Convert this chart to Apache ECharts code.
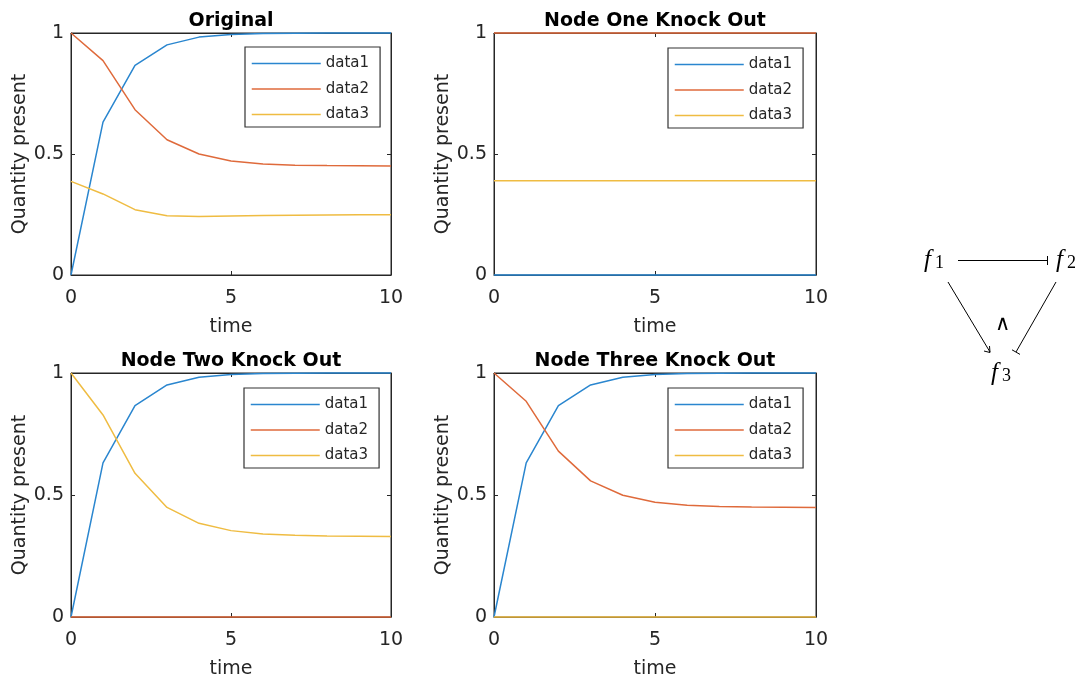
<!DOCTYPE html>
<html>
<head>
<meta charset="utf-8">
<script src="https://cdn.jsdelivr.net/npm/echarts@6/dist/echarts.min.js"></script>
<style>
html,body{margin:0;padding:0;background:#fff;}
#chart{width:1084px;height:684px;}
</style>
</head>
<body>
<div id="chart"></div>
<script>
const time = [0, 1, 2, 3, 4, 5, 6, 7, 8, 9, 10];
const seriesNames = ['data1', 'data2', 'data3'];
const panelTitles = ['Original', 'Node One Knock Out', 'Node Two Knock Out', 'Node Three Knock Out'];
const xTicks = [0, 5, 10];
const yTicks = [0, 0.5, 1];

const origData1 = [0, 0.632, 0.866, 0.951, 0.983, 0.994, 0.998, 0.999, 1, 1, 1];
const origData2 = [1, 0.886, 0.683, 0.559, 0.500, 0.471, 0.459, 0.454, 0.452, 0.451, 0.450];
const origData3 = [0.387, 0.335, 0.270, 0.245, 0.242, 0.244, 0.246, 0.247, 0.248, 0.249, 0.249];

const ko1Data1 = [0, 0, 0, 0, 0, 0, 0, 0, 0, 0, 0];
const ko1Data2 = [1, 1, 1, 1, 1, 1, 1, 1, 1, 1, 1];
const ko1Data3 = [0.389, 0.389, 0.389, 0.389, 0.389, 0.389, 0.389, 0.389, 0.389, 0.389, 0.389];

const ko2Data1 = [0, 0.632, 0.866, 0.951, 0.983, 0.994, 0.998, 0.999, 1, 1, 1];
const ko2Data2 = [0, 0, 0, 0, 0, 0, 0, 0, 0, 0, 0];
const ko2Data3 = [1, 0.828, 0.589, 0.449, 0.384, 0.354, 0.340, 0.335, 0.332, 0.331, 0.330];

const ko3Data1 = [0, 0.632, 0.866, 0.951, 0.983, 0.994, 0.998, 0.999, 1, 1, 1];
const ko3Data2 = [1, 0.884, 0.680, 0.558, 0.499, 0.470, 0.458, 0.453, 0.451, 0.450, 0.449];
const ko3Data3 = [0, 0, 0, 0, 0, 0, 0, 0, 0, 0, 0];

const panels = [
  [origData1, origData2, origData3],
  [ko1Data1, ko1Data2, ko1Data3],
  [ko2Data1, ko2Data2, ko2Data3],
  [ko3Data1, ko3Data2, ko3Data3]
];

const colors = ['#2a86cf', '#df6a3b', '#efbc42'];
const axisColor = '#262626';
const FONT = 'DejaVu Sans';

const grids = [
  {left: 71, top: 33, width: 320, height: 242},
  {left: 494, top: 33, width: 322, height: 242},
  {left: 71, top: 373, width: 320, height: 244},
  {left: 494, top: 373, width: 322, height: 244}
];
const legendPos = [
  {left: 245, top: 47}, {left: 668, top: 48}, {left: 244, top: 388}, {left: 668, top: 388}
];

const option = {
  animation: false,
  backgroundColor: '#ffffff',
  color: colors,
  title: [],
  grid: [],
  xAxis: [],
  yAxis: [],
  legend: [],
  series: [],
  graphic: []
};

grids.forEach((g, i) => {
  option.grid.push({left: g.left, top: g.top, width: g.width, height: g.height, containLabel: false,
    show: true, borderColor: axisColor, borderWidth: 1, backgroundColor: '#fff'});
  option.title.push({
    text: panelTitles[i], left: g.left + g.width / 2, top: g.top - 21, textAlign: 'center', padding: 0,
    textStyle: {fontFamily: FONT, fontWeight: 'bold', fontSize: 19, color: '#000'}
  });
  const common = {
    type: 'value', gridIndex: i, splitLine: {show: false},
    axisLine: {show: true, onZero: false, lineStyle: {color: axisColor, width: 1}},
    axisTick: {show: true, inside: true, length: 4, lineStyle: {color: axisColor}}
  };
  option.xAxis.push(Object.assign({}, common, {
    position: 'bottom', min: 0, max: 10, interval: 5,
    axisLabel: {fontFamily: FONT, fontSize: 19, color: axisColor, margin: 14,
      formatter: v => xTicks.includes(v) ? String(v) : ''},
    name: 'time', nameLocation: 'middle', nameGap: 43,
    nameTextStyle: {fontFamily: FONT, fontSize: 19, color: axisColor}
  }));
  option.xAxis.push(Object.assign({}, common, {
    position: 'top', min: 0, max: 10, interval: 5, axisLabel: {show: false}
  }));
  option.yAxis.push(Object.assign({}, common, {
    position: 'left', min: 0, max: 1, interval: 0.5,
    axisLabel: {fontFamily: FONT, fontSize: 19, color: axisColor, margin: 7,
      formatter: v => yTicks.includes(v) ? String(v) : ''},
    name: 'Quantity present', nameLocation: 'middle', nameGap: 36,
    nameTextStyle: {fontFamily: FONT, fontSize: 19, color: axisColor}
  }));
  option.yAxis.push(Object.assign({}, common, {
    position: 'right', min: 0, max: 1, interval: 0.5, axisLabel: {show: false}
  }));
  panels[i].forEach((vals, k) => {
    option.series.push({
      name: seriesNames[k], type: 'line', xAxisIndex: 2 * i, yAxisIndex: 2 * i,
      data: time.map((t, j) => [t, vals[j]]),
      symbol: 'none', smooth: false, clip: false, z: 3 + k,
      lineStyle: {width: 1.5, color: colors[k]}, itemStyle: {color: colors[k]}
    });
  });
  option.legend.push({
    left: legendPos[i].left, top: legendPos[i].top, orient: 'vertical',
    data: seriesNames.slice(), selectedMode: false,
    backgroundColor: '#fff', borderColor: '#333', borderWidth: 1.2, borderRadius: 0,
    padding: [9, 11, 5, 6], itemGap: 10.5, itemWidth: 69, itemHeight: 14,
    itemStyle: {opacity: 0},
    lineStyle: {width: 1.5},
    textStyle: {fontFamily: FONT, fontSize: 15, color: axisColor, padding: [0, 0, 0, 0]}
  });
});

// network diagram on the right
const SERIF = 'Liberation Serif';
function fLabel(x, y, sub) {
  return [
    {type: 'text', left: x, top: y, style: {text: 'f', font: 'italic 25px "' + SERIF + '"', fill: '#000'}},
    {type: 'text', left: x + 11, top: y + 6, style: {text: sub, font: '18px "' + SERIF + '"', fill: '#000'}}
  ];
}
const lineStyle = {stroke: '#000', lineWidth: 1};
option.graphic = [].concat(
  fLabel(924, 248, '1'),
  fLabel(1056, 248, '2'),
  fLabel(991, 361, '3'),
  [
    {type: 'line', shape: {x1: 958, y1: 260.5, x2: 1047, y2: 260.5}, style: lineStyle},
    {type: 'line', shape: {x1: 1047.5, y1: 256, x2: 1047.5, y2: 265}, style: lineStyle},
    {type: 'line', shape: {x1: 948, y1: 282, x2: 990, y2: 352}, style: lineStyle},
    {type: 'polyline', shape: {points: [[984, 351], [990, 352.5], [989.5, 346]]}, style: {stroke: '#000', lineWidth: 1, fill: null}},
    {type: 'line', shape: {x1: 1056, y1: 282, x2: 1016, y2: 352}, style: lineStyle},
    {type: 'line', shape: {x1: 1012, y1: 349.8, x2: 1020, y2: 354.4}, style: lineStyle},
    {type: 'text', left: 995, top: 314, style: {text: '∧', font: '21px "DejaVu Sans"', fill: '#000'}}
  ]
);

const chart = echarts.init(document.getElementById('chart'), null, {renderer: 'canvas'});
chart.setOption(option);
</script>
</body>
</html>
